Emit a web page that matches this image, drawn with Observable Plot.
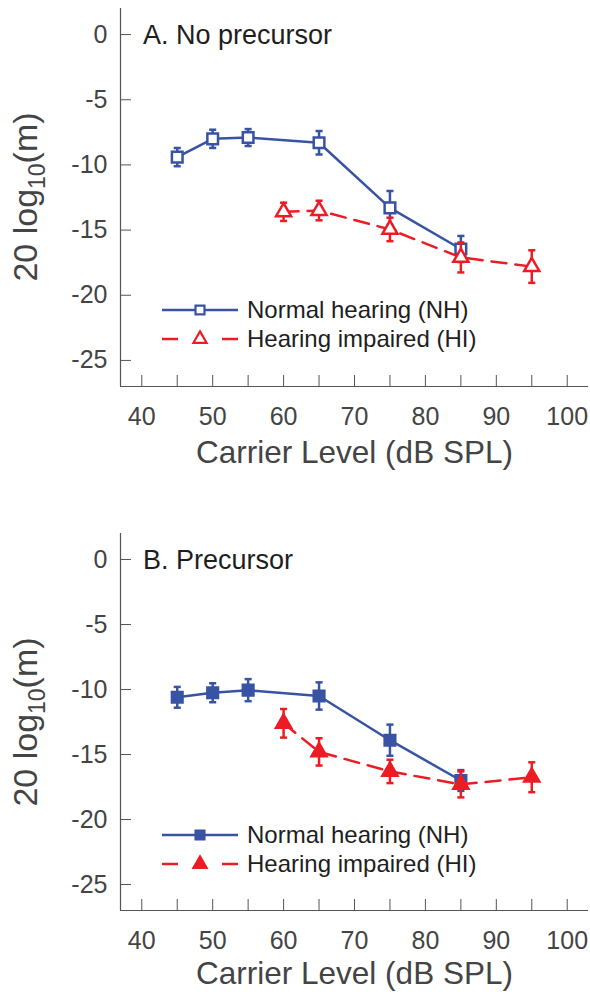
<!DOCTYPE html>
<html><head><meta charset="utf-8">
<script src="https://cdn.jsdelivr.net/npm/d3@7"></script>
<script src="https://cdn.jsdelivr.net/npm/@observablehq/plot@0.6"></script>
<style>body{margin:0;background:#fff} #chart svg{display:block}</style>
</head><body><div id="chart"></div>
<script>
// ---- data ----
const nhLevelsA = [45, 50, 55, 65, 75, 85];
const nhMeanA   = [-9.4, -8.0, -7.9, -8.3, -13.3, -16.45];
const nhErrA    = [0.7, 0.7, 0.65, 0.9, 1.3, 1.0];
const hiLevelsA = [60, 65, 75, 85, 95];
const hiMeanA   = [-13.6, -13.5, -14.95, -17.1, -17.8];
const hiErrA    = [0.7, 0.75, 0.9, 1.15, 1.25];

const nhLevelsB = [45, 50, 55, 65, 75, 85];
const nhMeanB   = [-10.6, -10.25, -10.05, -10.5, -13.9, -17.0];
const nhErrB    = [0.8, 0.73, 0.85, 1.05, 1.2, 0.8];
const hiLevelsB = [60, 65, 75, 85, 95];
const hiMeanB   = [-12.6, -14.8, -16.3, -17.3, -16.75];
const hiErrB    = [1.1, 1.05, 0.9, 1.0, 1.15];

const xTickLabels = [40, 50, 60, 70, 80, 90, 100];
const xTickMarks  = [40, 45, 50, 55, 60, 65, 70, 75, 80, 85, 90, 95, 100];
const yTicks      = [0, -5, -10, -15, -20, -25];
const xDomain = [37, 103];
const yDomain = [-27, 2];
const seriesNames = ["Normal hearing (NH)", "Hearing impaired (HI)"];
const panelTitles = ["A. No precursor", "B. Precursor"];
const xLabel = "Carrier Level (dB SPL)";

// ---- styles ----
const BLUE = "#3953a4", RED = "#ec1c24", AXIS = "#555555", TEXT = "#444444", DARK = "#1e1e1e";
const FONT = "'Liberation Sans', Arial, Helvetica, sans-serif";

const rows = (xs, ms, es) => xs.map((x, i) => ({x, y: ms[i], e: es[i]}));
const capSymbol = {draw(ctx, size) { const w = Math.sqrt(size) / 2; ctx.moveTo(-w, 0); ctx.lineTo(w, 0); }};

function panel({title, nh, hi, filled, height, marginBottom, labelDy}) {
  const series = [
    {data: nh, color: BLUE, dash: null, symbol: "square", r: 6.0},
    {data: hi, color: RED, dash: "15,9", symbol: "triangle", r: 5.6}
  ];
  const marks = [
    Plot.ruleX([xDomain[0]], {stroke: AXIS, strokeWidth: 1.2}),
    Plot.ruleY([yDomain[0]], {stroke: AXIS, strokeWidth: 1.2}),
    Plot.axisX({ticks: xTickMarks, tickSize: -11, tickFormat: () => "", label: null, color: AXIS}),
    Plot.axisY({ticks: yTicks, tickSize: -11, tickFormat: () => "", label: null, color: AXIS}),
    Plot.axisX({ticks: xTickLabels, tickSize: 0, tickPadding: 21, fontSize: 25, fill: TEXT, label: null, tickFormat: d => String(d)}),
    Plot.axisY({ticks: yTicks, tickSize: 0, tickPadding: 13, fontSize: 25, fill: TEXT, label: null, tickFormat: d => String(d)}),
    Plot.text([xLabel], {frameAnchor: "bottom", lineAnchor: "middle", dy: labelDy, fontSize: 31.5, fill: TEXT, text: d => d})
  ];
  for (const s of series) {
    marks.push(
      Plot.line(s.data, {x: "x", y: "y", stroke: s.color, strokeWidth: 2.5, strokeDasharray: s.dash}),
      Plot.ruleX(s.data, {x: "x", y1: d => d.y - d.e, y2: d => d.y + d.e, stroke: s.color, strokeWidth: 2.5}),
      Plot.dot(s.data, {x: "x", y: d => d.y + d.e, symbol: capSymbol, r: 4, stroke: s.color, strokeWidth: 2.5}),
      Plot.dot(s.data, {x: "x", y: d => d.y - d.e, symbol: capSymbol, r: 4, stroke: s.color, strokeWidth: 2.5}),
      Plot.dot(s.data, {x: "x", y: "y", symbol: s.symbol, r: s.r, stroke: s.color, strokeWidth: 2.5, fill: filled ? s.color : "white"})
    );
  }
  const svg = Plot.plot({
    width: 590, height, marginLeft: 120, marginRight: 2, marginTop: 8, marginBottom,
    style: {fontFamily: FONT, background: "white"},
    x: {domain: xDomain}, y: {domain: yDomain},
    marks
  });
  const g = d3.select(svg);
  // panel title
  g.append("text").attr("x", 143).attr("y", 44).attr("text-anchor", "start").attr("font-size", 27)
    .attr("font-family", FONT).attr("fill", DARK).text(title);
  // y label with subscript
  const yl = g.append("text").attr("transform", "translate(37,197) rotate(-90)")
    .attr("text-anchor", "middle").attr("font-size", 34).attr("font-family", FONT).attr("fill", TEXT);
  yl.append("tspan").text("20 log");
  yl.append("tspan").attr("font-size", 23).attr("dy", 8).text("10");
  yl.append("tspan").attr("dy", -8).text("(m)");
  // legend
  const leg = g.append("g").attr("font-family", FONT).attr("text-anchor", "start");
  const ly = [310, 339];
  leg.append("line").attr("x1", 162).attr("x2", 238).attr("y1", ly[0]).attr("y2", ly[0])
    .attr("stroke", BLUE).attr("stroke-width", 2.5);
  leg.append("path").attr("d", d3.symbol(d3.symbolSquare, 80)()).attr("transform", `translate(200,${ly[0]})`)
    .attr("fill", filled ? BLUE : "white").attr("stroke", BLUE).attr("stroke-width", 2.2);
  for (const [a, b] of [[162, 178], [222, 238]])
    leg.append("line").attr("x1", a).attr("x2", b).attr("y1", ly[1]).attr("y2", ly[1])
      .attr("stroke", RED).attr("stroke-width", 2.5);
  leg.append("path").attr("d", d3.symbol(d3.symbolTriangle, 75)()).attr("transform", `translate(200,${ly[1]})`)
    .attr("fill", filled ? RED : "white").attr("stroke", RED).attr("stroke-width", 2.2);
  seriesNames.forEach((name, i) => {
    leg.append("text").attr("x", 247).attr("y", ly[i] + 8).attr("font-size", 24).attr("fill", DARK).text(name);
  });
  return svg;
}

const chart = document.getElementById("chart");
chart.append(panel({title: panelTitles[0], nh: rows(nhLevelsA, nhMeanA, nhErrA), hi: rows(hiLevelsA, hiMeanA, hiErrA), filled: false, height: 525, marginBottom: 139, labelDy: 66}));
chart.append(panel({title: panelTitles[1], nh: rows(nhLevelsB, nhMeanB, nhErrB), hi: rows(hiLevelsB, hiMeanB, hiErrB), filled: true, height: 467, marginBottom: 82, labelDy: 63}));
</script>
</body></html>
